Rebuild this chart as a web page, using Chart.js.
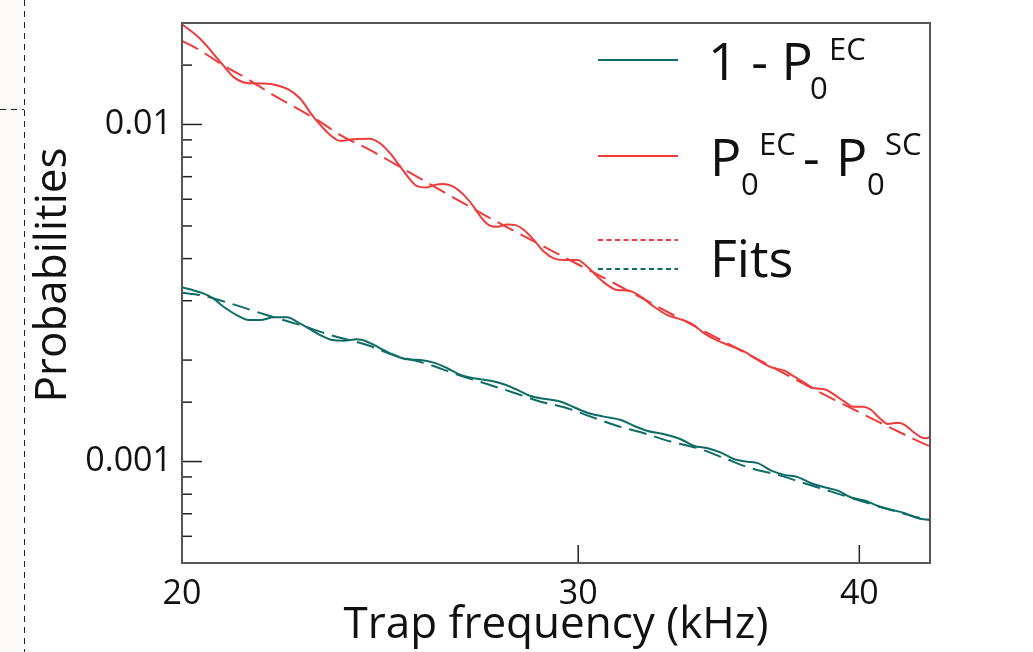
<!DOCTYPE html>
<html><head><meta charset="utf-8">
<script src="https://cdn.jsdelivr.net/npm/chart.js@4.4.1/dist/chart.umd.min.js"></script>
<style>html,body{margin:0;padding:0;background:#fff;} canvas{display:block;}</style>
</head><body>
<canvas id="c" width="1033" height="652"></canvas>
<script>
// ---- data ----
const xTicks = [20, 30, 40];
const yMajorTicks = [0.001, 0.01];
const xRange = [20, 43];
const yRange = [0.0005, 0.02];
const xTitle = 'Trap frequency (kHz)';
const yTitle = 'Probabilities';

const tealFreq = [20, 20.16, 20.44, 20.65, 20.87, 21.15, 21.41, 21.67, 21.96, 22.27, 22.5, 22.73, 23.04, 23.32, 23.6, 23.92, 24.17, 24.5, 24.84, 25.18, 25.53, 25.88, 26.24, 26.6, 26.96, 27.43, 27.8, 28.19, 28.57, 29.07, 29.47, 29.87, 30.28, 30.8, 31.34, 31.77, 32.21, 32.76, 33.32, 33.78, 34.25, 34.72, 35.2, 35.68, 36.05, 36.55, 37.05, 37.56, 38.08, 38.6, 39.13, 39.67, 40.21, 40.77, 41.33, 41.9, 42.48, 43];
const tealVal = [0.003287, 0.003243, 0.003155, 0.003049, 0.002879, 0.00272, 0.002629, 0.002629, 0.002678, 0.002678, 0.002598, 0.002501, 0.002373, 0.002293, 0.002283, 0.002304, 0.002267, 0.002167, 0.00207, 0.00201, 0.002001, 0.001965, 0.001891, 0.001806, 0.001766, 0.001737, 0.001695, 0.001631, 0.001565, 0.00153, 0.001505, 0.001449, 0.001396, 0.001359, 0.001328, 0.001275, 0.001232, 0.001205, 0.001164, 0.001112, 0.001095, 0.001063, 0.001016, 0.000999, 0.000989, 0.00094, 0.000913, 0.000899, 0.000862, 0.000839, 0.00082, 0.000782, 0.000766, 0.000738, 0.000719, 0.000703, 0.000679, 0.000671];

const redFreq = [20, 20.37, 20.8, 21.08, 21.37, 21.74, 22.04, 22.3, 22.57, 22.88, 23.28, 23.52, 23.84, 24.21, 24.5, 24.75, 25.01, 25.27, 25.44, 25.7, 25.88, 26.14, 26.41, 26.69, 26.96, 27.15, 27.38, 27.62, 27.9, 28.14, 28.38, 28.67, 28.97, 29.26, 29.57, 29.98, 30.28, 30.6, 30.91, 31.23, 31.6, 31.99, 32.42, 32.87, 33.21, 33.67, 34.13, 34.6, 35.08, 35.56, 36.05, 36.55, 37.05, 37.43, 37.81, 38.2, 38.6, 39.0, 39.4, 39.74, 40.15, 40.49, 40.84, 41.19, 41.61, 41.9, 42.26, 42.62, 42.84, 43];
const redVal = [0.01984, 0.01799, 0.01533, 0.01384, 0.01328, 0.01323, 0.01308, 0.0127, 0.01194, 0.01053, 0.009296, 0.008941, 0.009045, 0.009064, 0.008784, 0.008204, 0.007487, 0.006838, 0.006563, 0.006505, 0.006607, 0.006653, 0.006531, 0.006171, 0.005697, 0.005321, 0.005028, 0.00497, 0.005052, 0.005028, 0.00486, 0.004539, 0.004191, 0.004006, 0.00396, 0.00396, 0.003783, 0.003534, 0.003339, 0.003227, 0.003212, 0.003083, 0.002879, 0.00272, 0.002659, 0.00257, 0.002401, 0.002283, 0.002202, 0.002118, 0.002001, 0.001904, 0.00186, 0.001785, 0.001714, 0.001649, 0.001638, 0.001576, 0.001505, 0.001455, 0.001455, 0.001422, 0.001344, 0.001292, 0.001304, 0.001284, 0.001226, 0.00118, 0.001172, 0.001185];

const redFitFreq = [20, 20.37, 20.8, 21.37, 21.96, 22.5, 23.04, 23.52, 24.25, 24.92, 25.75, 27.43, 29.26, 31.23, 32.87, 35.8, 38.73, 40.35, 42.48, 43];
const redFitVal = [0.0177, 0.01661, 0.01516, 0.01369, 0.01222, 0.01116, 0.01018, 0.0093, 0.00839, 0.00757, 0.00668, 0.00526, 0.00419, 0.00334, 0.00278, 0.00206, 0.00156, 0.00136, 0.00115, 0.00111];

const tealFitFreq = [20, 20.37, 21.01, 21.81, 22.57, 23.28, 24.17, 24.84, 25.79, 26.41, 27.33, 28.09, 28.87, 29.57, 30.39, 31.23, 32.09, 32.98, 33.9, 34.84, 35.8, 36.8, 37.81, 38.87, 39.94, 41.05, 42.19, 43];
const tealFitVal = [0.003168, 0.003119, 0.002946, 0.00272, 0.002541, 0.002373, 0.002216, 0.00207, 0.001934, 0.001827, 0.001698, 0.0016, 0.001505, 0.001449, 0.001359, 0.001275, 0.001213, 0.001146, 0.001095, 0.001023, 0.000955, 0.000913, 0.000862, 0.000814, 0.000769, 0.000727, 0.00069, 0.000671];

// ---- styles ----
const TEAL = '#0f6b66';
const RED = '#ee3b3b';
const FONT = "'Open Sans', 'Noto Sans', sans-serif";

const pts = (xs, ys) => xs.map((x, i) => ({x: x, y: ys[i]}));

const framePlugin = {
  id: 'frame',
  beforeDraw(chart) {
    const ctx = chart.ctx;
    ctx.save();
    ctx.fillStyle = '#fcf9f9';
    ctx.fillRect(0, 0, 24, chart.height);
    ctx.strokeStyle = '#222'; ctx.lineWidth = 1; ctx.setLineDash([6, 5]);
    ctx.beginPath(); ctx.moveTo(24.5, 0); ctx.lineTo(24.5, chart.height); ctx.stroke();
    ctx.beginPath(); ctx.moveTo(0, 109.5); ctx.lineTo(24, 109.5); ctx.stroke();
    ctx.restore();
  },
  afterDraw(chart) {
    const {ctx, chartArea: a, scales: {x, y}} = chart;
    ctx.save();
    ctx.strokeStyle = '#222'; ctx.lineWidth = 1.5;
    y.ticks.forEach(t => {
      const py = y.getPixelForValue(t.value);
      if (py <= a.top + 1 || py >= a.bottom - 1) return;
      const lg = Math.log10(t.value);
      const major = Math.abs(lg - Math.round(lg)) < 1e-6;
      const len = major ? 20 : 10;
      ctx.beginPath(); ctx.moveTo(a.left, py); ctx.lineTo(a.left + len, py); ctx.stroke();
    });
    x.ticks.forEach(t => {
      const px = x.getPixelForValue(t.value);
      if (px <= a.left + 1 || px >= a.right - 1) return;
      ctx.beginPath(); ctx.moveTo(px, a.bottom); ctx.lineTo(px, a.bottom - 18); ctx.stroke();
    });
    ctx.strokeStyle = '#555'; ctx.lineWidth = 2;
    ctx.strokeRect(a.left, a.top, a.right - a.left, a.bottom - a.top);

    // y axis title
    ctx.fillStyle = '#111';
    ctx.save();
    ctx.translate(66, 275);
    ctx.rotate(-Math.PI / 2);
    ctx.font = '44px ' + FONT;
    ctx.textAlign = 'center';
    ctx.textBaseline = 'alphabetic';
    ctx.fillText(yTitle, 0, 0);
    ctx.restore();

    // legend
    ctx.lineWidth = 2;
    ctx.setLineDash([]);
    ctx.strokeStyle = TEAL;
    ctx.beginPath(); ctx.moveTo(598, 60); ctx.lineTo(678, 60); ctx.stroke();
    ctx.strokeStyle = RED;
    ctx.beginPath(); ctx.moveTo(598, 156); ctx.lineTo(678, 156); ctx.stroke();
    ctx.setLineDash([5, 3.5]);
    ctx.beginPath(); ctx.moveTo(598, 240); ctx.lineTo(678, 240); ctx.stroke();
    ctx.strokeStyle = TEAL;
    ctx.beginPath(); ctx.moveTo(598, 269); ctx.lineTo(678, 269); ctx.stroke();
    ctx.setLineDash([]);

    ctx.textBaseline = 'alphabetic';
    ctx.textAlign = 'left';
    const big = '52px ' + FONT, small = '31px ' + FONT;
    ctx.font = big;
    ctx.fillText('1 - P', 708, 80);
    ctx.font = small;
    ctx.fillText('0', 810, 99);
    ctx.fillText('EC', 829, 60);
    ctx.font = big;
    ctx.fillText('P', 710, 176);
    ctx.fillText('-', 803, 176);
    ctx.fillText('P', 836, 176);
    ctx.font = small;
    ctx.fillText('0', 741, 195);
    ctx.fillText('EC', 759, 155);
    ctx.fillText('0', 867, 195);
    ctx.fillText('SC', 885, 155);
    ctx.font = big;
    ctx.fillText('Fits', 710, 277);
    ctx.restore();
  }
};

new Chart(document.getElementById('c'), {
  type: 'line',
  data: {
    datasets: [
      {label: '1 - P0 EC', data: pts(tealFreq, tealVal), borderColor: TEAL, borderWidth: 2, pointRadius: 0, cubicInterpolationMode: 'monotone', fill: false},
      {label: 'P0 EC - P0 SC', data: pts(redFreq, redVal), borderColor: RED, borderWidth: 2, pointRadius: 0, cubicInterpolationMode: 'monotone', fill: false},
      {label: 'Fit (red)', data: pts(redFitFreq, redFitVal), borderColor: RED, borderWidth: 2, borderDash: [18, 8], pointRadius: 0, cubicInterpolationMode: 'monotone', fill: false},
      {label: 'Fit (teal)', data: pts(tealFitFreq, tealFitVal), borderColor: TEAL, borderWidth: 2, borderDash: [18, 8], pointRadius: 0, cubicInterpolationMode: 'monotone', fill: false}
    ]
  },
  options: {
    responsive: false,
    animation: false,
    devicePixelRatio: 1,
    layout: {padding: {top: 23, right: 103, left: 0, bottom: 0}},
    plugins: {legend: {display: false}, tooltip: {enabled: false}},
    scales: {
      x: {
        type: 'logarithmic', min: xRange[0], max: xRange[1], position: 'bottom',
        afterFit: s => { s.height = 89; s.paddingLeft = 0; s.paddingRight = 0; },
        afterBuildTicks: s => { s.ticks = xTicks.map(v => ({value: v})); },
        grid: {display: false, drawTicks: false},
        border: {display: false},
        ticks: {autoSkip: false, maxRotation: 0, padding: 11, color: '#111', font: {family: FONT, size: 34}, callback: v => String(v)},
        title: {display: true, text: xTitle, color: '#111', font: {family: FONT, size: 44}, padding: {top: 0, bottom: 0}}
      },
      y: {
        type: 'logarithmic', min: yRange[0], max: yRange[1], position: 'left',
        afterFit: s => { s.width = 182; s.paddingTop = 0; s.paddingBottom = 0; },
        grid: {display: false, drawTicks: false},
        border: {display: false},
        ticks: {autoSkip: false, padding: 10, color: '#111', font: {family: FONT, size: 34},
          callback: v => { const m = yMajorTicks.find(t => Math.abs(t - v) / t < 1e-6); return m !== undefined ? String(m) : ''; }},
        title: {display: false}
      }
    }
  },
  plugins: [framePlugin]
});
</script>
</body></html>
